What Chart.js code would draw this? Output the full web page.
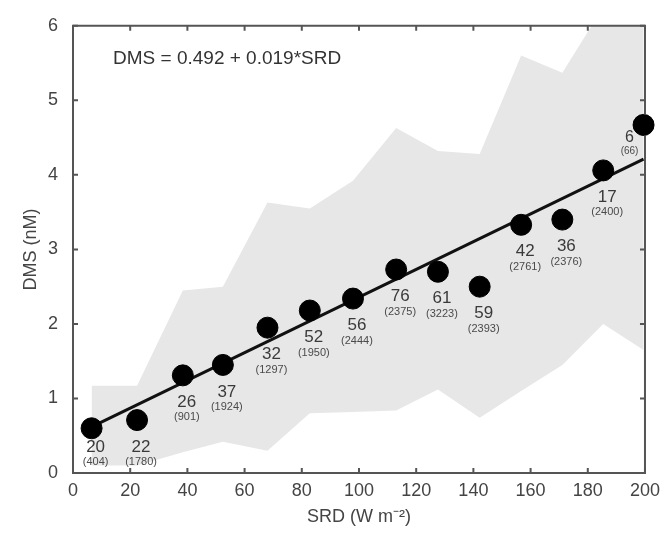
<!DOCTYPE html>
<html>
<head>
<meta charset="utf-8">
<script src="https://cdn.jsdelivr.net/npm/chart.js@4.4.1/dist/chart.umd.min.js"></script>
<style>
  body { margin: 0; background: #fff; }
  canvas { display: block; }
</style>
</head>
<body>
<canvas id="dmsChart" width="667" height="535"></canvas>
<script>
// SRD bin centres (W m-2) and mean DMS (nM) per bin
const srd = [6.5, 22.4, 38.4, 52.4, 68, 82.8, 97.9, 113, 127.6, 142.2, 156.7, 171.1, 185.4, 199.5];
const dms = [0.60, 0.71, 1.31, 1.45, 1.95, 2.18, 2.34, 2.73, 2.70, 2.50, 3.33, 3.40, 4.06, 4.67];

// number of profiles and number of samples (in brackets) for each bin
const profiles = [20, 22, 26, 37, 32, 52, 56, 76, 61, 59, 42, 36, 17, 6];
const samples = [404, 1780, 901, 1924, 1297, 1950, 2444, 2375, 3223, 2393, 2761, 2376, 2400, 66];

// limits of the grey envelope
const upper = [1.17, 1.17, 2.45, 2.50, 3.63, 3.55, 3.92, 4.63, 4.32, 4.28, 5.60, 5.37, 6.25, 6.70];
const lower = [0.10, 0.10, 0.28, 0.42, 0.30, 0.80, 0.82, 0.84, 1.12, 0.74, 1.10, 1.45, 2.00, 1.65];

// regression line ends as drawn
const fitX = [6.5, 199.5];
const fitY = [0.62, 4.21];

const equation = 'DMS = 0.492 + 0.019*SRD';

const xTicks = [0, 20, 40, 60, 80, 100, 120, 140, 160, 180, 200];
const yTicks = [0, 1, 2, 3, 4, 5, 6];

const fontFamily = '"Liberation Sans", Arial, Helvetica, sans-serif';

function toPoints(xs, ys) {
    return xs.map((x, i) => ({ x: x, y: ys[i] }));
}

// frame with inward ticks, bin labels and the equation
const decorations = {
    id: 'decorations',
    afterDraw(chart) {
        const ctx = chart.ctx;
        const a = chart.chartArea;
        const xs = chart.scales.x;
        const ys = chart.scales.y;
        const tick = 5;

        ctx.save();
        ctx.strokeStyle = '#555';
        ctx.lineWidth = 2;
        ctx.beginPath();
        ctx.moveTo(a.left, a.top);
        ctx.lineTo(a.right, a.top);
        ctx.lineTo(a.right, a.bottom);
        ctx.lineTo(a.left, a.bottom);
        ctx.closePath();
        ctx.stroke();

        ctx.beginPath();
        xTicks.forEach(v => {
            const px = xs.getPixelForValue(v);
            ctx.moveTo(px, a.bottom);
            ctx.lineTo(px, a.bottom - tick);
            ctx.moveTo(px, a.top);
            ctx.lineTo(px, a.top + tick);
        });
        yTicks.forEach(v => {
            const py = ys.getPixelForValue(v);
            ctx.moveTo(a.left, py);
            ctx.lineTo(a.left + tick, py);
            ctx.moveTo(a.right, py);
            ctx.lineTo(a.right - tick, py);
        });
        ctx.stroke();

        // the last point sits on the right edge, draw it again over the frame
        const lastX = xs.getPixelForValue(srd[srd.length - 1]);
        const lastY = ys.getPixelForValue(dms[dms.length - 1]);
        ctx.fillStyle = '#000';
        ctx.beginPath();
        ctx.arc(lastX, lastY, 10.5, 0, Math.PI * 2);
        ctx.fill();

        // labels under each point
        ctx.textAlign = 'center';
        ctx.textBaseline = 'middle';
        srd.forEach((s, i) => {
            const px = xs.getPixelForValue(s);
            const py = ys.getPixelForValue(dms[i]);
            const atEdge = px > a.right - 15;
            let lx = px + 4;
            let y1 = py + 27;
            let y2 = py + 42;
            if (atEdge) {
                // no room on the right, put it beside the point
                lx = px - 14;
                y1 = py + 13;
                y2 = py + 26;
            }
            if (y2 > a.bottom - 11) {
                y2 = a.bottom - 11;
                y1 = Math.min(y1, y2 - 15);
            }
            ctx.fillStyle = '#3a3a3a';
            ctx.font = (atEdge ? '16px ' : '17px ') + fontFamily;
            ctx.fillText(String(profiles[i]), lx, y1);
            ctx.fillStyle = '#4a4a4a';
            ctx.font = (atEdge ? '10px ' : '11px ') + fontFamily;
            ctx.fillText('(' + samples[i] + ')', lx, y2);
        });

        // regression equation
        ctx.fillStyle = '#333';
        ctx.font = '19px ' + fontFamily;
        ctx.textAlign = 'left';
        ctx.fillText(equation, xs.getPixelForValue(14), ys.getPixelForValue(5.56));
        ctx.restore();
    }
};

new Chart(document.getElementById('dmsChart'), {
    type: 'scatter',
    data: {
        datasets: [
            {
                label: 'DMS',
                data: toPoints(srd, dms),
                backgroundColor: '#000',
                borderColor: '#000',
                pointRadius: 10.5,
                pointHoverRadius: 10.5,
                clip: false
            },
            {
                label: 'fit',
                data: toPoints(fitX, fitY),
                showLine: true,
                borderColor: '#111',
                borderWidth: 3,
                pointRadius: 0
            },
            {
                label: 'upper',
                data: toPoints(srd, upper),
                showLine: true,
                borderWidth: 0,
                borderColor: 'rgba(0,0,0,0)',
                backgroundColor: '#e7e7e7',
                pointRadius: 0,
                fill: '+1'
            },
            {
                label: 'lower',
                data: toPoints(srd, lower),
                showLine: true,
                borderWidth: 0,
                borderColor: 'rgba(0,0,0,0)',
                pointRadius: 0,
                fill: false
            }
        ]
    },
    options: {
        responsive: false,
        animation: false,
        layout: { padding: { top: 23, right: 20, left: 0, bottom: 0 } },
        plugins: {
            legend: { display: false },
            tooltip: { enabled: false }
        },
        scales: {
            x: {
                type: 'linear',
                min: 0,
                max: 200,
                afterFit: scale => { scale.height = 62; },
                afterBuildTicks: scale => { scale.ticks = xTicks.map(v => ({ value: v })); },
                grid: { display: false, drawTicks: false },
                border: { display: false },
                ticks: {
                    padding: 7,
                    color: '#444',
                    font: { family: fontFamily, size: 18 },
                    maxRotation: 0
                },
                title: {
                    display: true,
                    text: 'SRD (W m⁻²)',
                    color: '#444',
                    font: { family: fontFamily, size: 18 },
                    padding: { top: 0, bottom: 7 }
                }
            },
            y: {
                min: 0,
                max: 6,
                afterFit: scale => { scale.width = 73; },
                afterBuildTicks: scale => { scale.ticks = yTicks.map(v => ({ value: v })); },
                grid: { display: false, drawTicks: false },
                border: { display: false },
                ticks: {
                    padding: 15,
                    color: '#444',
                    font: { family: fontFamily, size: 18 }
                },
                title: {
                    display: true,
                    text: 'DMS (nM)',
                    color: '#444',
                    font: { family: fontFamily, size: 18 },
                    padding: { top: 20, bottom: 0 }
                }
            }
        }
    },
    plugins: [decorations]
});
</script>
</body>
</html>
